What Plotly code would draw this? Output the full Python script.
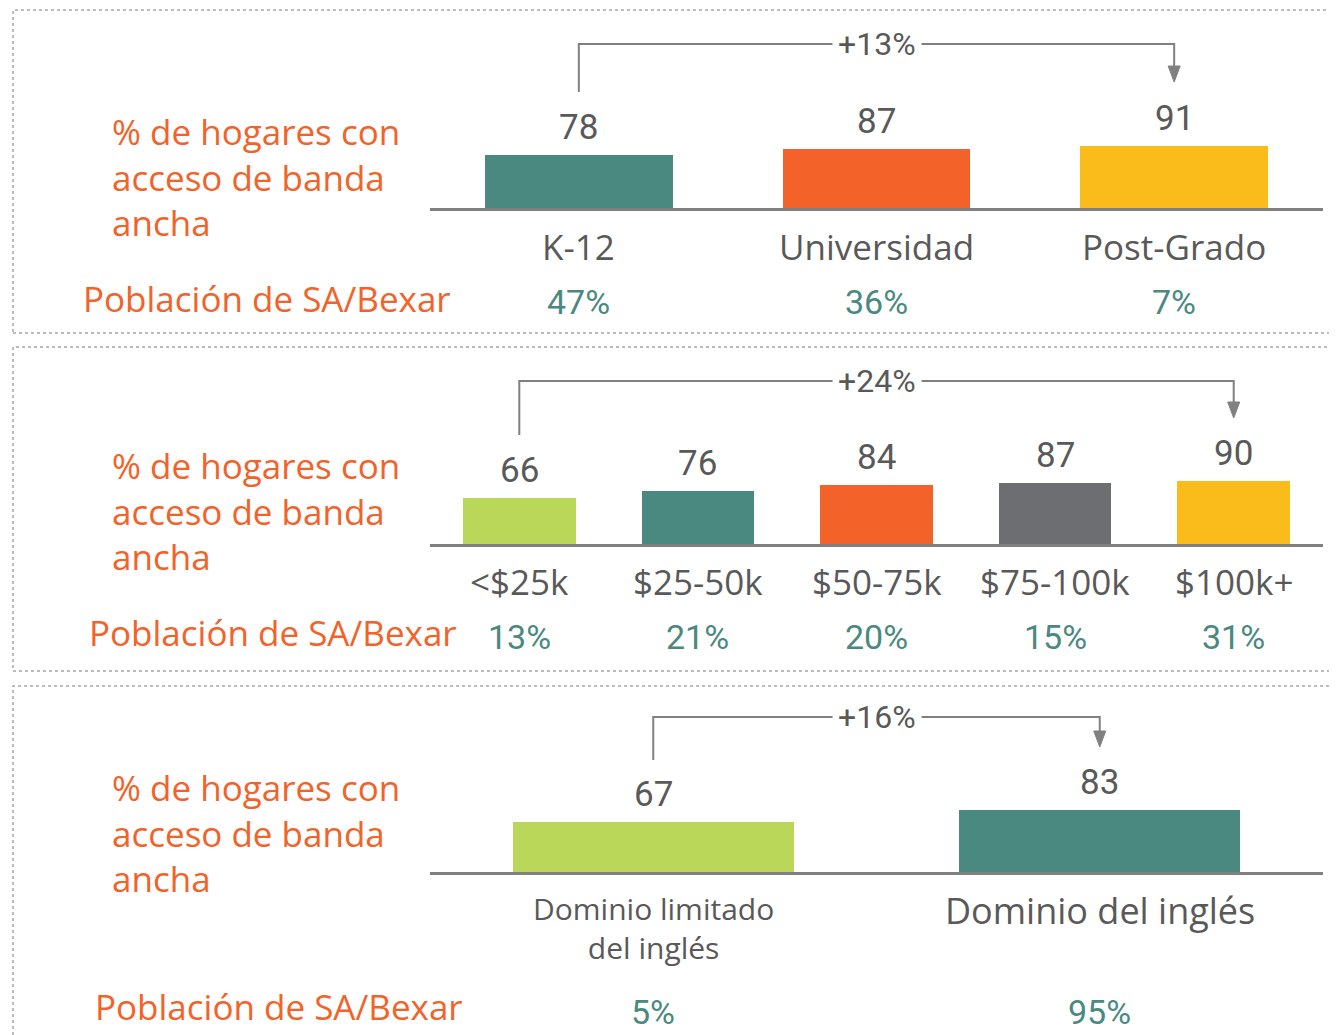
import plotly.graph_objects as go

# ---------------- data ----------------
cats1 = ["K-12", "Universidad", "Post-Grado"]
vals1 = [78, 87, 91]
pct1 = ["47%", "36%", "7%"]
chg1 = "+13%"

cats2 = ["&lt;$25k", "$25-50k", "$50-75k", "$75-100k", "$100k+"]
vals2 = [66, 76, 84, 87, 90]
pct2 = ["13%", "21%", "20%", "15%", "31%"]
chg2 = "+24%"

cats3 = ["Dominio limitado<br>del inglés", "Dominio del inglés"]
vals3 = [67, 83]
pct3 = ["5%", "95%"]
chg3 = "+16%"

ylabel = "% de hogares con<br>acceso de banda<br>ancha"
poplabel = "Población de SA/Bexar"

# ---------------- style ----------------
TEAL = "#4A897F"
ORANGE = "#F26229"
YELLOW = "#F9BC1A"
LIME = "#BAD759"
GRAY = "#6D6E71"
TXT = "#595959"
LINE = "#808080"

colors1 = [TEAL, ORANGE, YELLOW]
colors2 = [LIME, TEAL, ORANGE, GRAY, YELLOW]
colors3 = [LIME, TEAL]

LABEL_FONT = "Open Sans, Noto Sans, sans-serif"
NUM_FONT = "Liberation Sans Narrow, Roboto, sans-serif"

# page body margin offset (px) -> figure sized to fit the window
OFF = 8
W, H = 1337 - OFF, 1035 - OFF


def py(p):
    return 1 - (p - OFF) / H


def px(p):
    return (p - OFF) / W


# panel layout (pixel based, window coordinates)
panels = [
    dict(cats=cats1, vals=vals1, pct=pct1, chg=chg1, colors=colors1,
         base=208, top=20, k=0.68, cat_y=246, cat_size=35, pct_y=302,
         br_low=92, br_top=44, br_tip=82, lab_y=177, pop_x=453, pop_y=298),
    dict(cats=cats2, vals=vals2, pct=pct2, chg=chg2, colors=colors2,
         base=544, top=357, k=0.70, cat_y=581, cat_size=35, pct_y=637,
         br_low=435, br_top=381, br_tip=418, lab_y=511, pop_x=459, pop_y=632),
    dict(cats=cats3, vals=vals3, pct=pct3, chg=chg3, colors=colors3,
         base=872, top=695, k=0.747, cat_y=None, cat_size=30, pct_y=1012,
         br_low=760, br_top=717, br_tip=747, lab_y=833, pop_x=465, pop_y=1006),
]

fig = go.Figure()
annotations = []
shapes = []

x_dom = [px(430), px(1323)]
AX_W = 1323 - 430

for i, p in enumerate(panels, start=1):
    xa = "x" if i == 1 else f"x{i}"
    ya = "y" if i == 1 else f"y{i}"
    n = len(p["cats"])
    idx = list(range(n))
    ymax = (p["base"] - p["top"]) / p["k"]

    fig.add_trace(go.Bar(
        x=idx, y=p["vals"], width=0.63, marker_color=p["colors"],
        marker_line_width=0, xaxis=xa, yaxis=ya, hoverinfo="skip",
        showlegend=False))

    # value labels above bars
    for j, v in enumerate(p["vals"]):
        annotations.append(dict(
            x=j, y=v, xref=xa, yref=ya, text=str(v), showarrow=False,
            yanchor="bottom", yshift=5,
            font=dict(family=NUM_FONT, size=35, color=TXT)))

    # category labels & population shares
    for j, c in enumerate(p["cats"]):
        if p["cat_y"] is not None:
            cy, cs = p["cat_y"], p["cat_size"]
        else:
            cy = 928 if j == 0 else 910
            cs = 30 if j == 0 else 36
        annotations.append(dict(
            x=j, y=py(cy), xref=xa, yref="paper", text=c, showarrow=False,
            yanchor="middle", font=dict(family=LABEL_FONT, size=cs, color=TXT)))
        annotations.append(dict(
            x=j, y=py(p["pct_y"]), xref=xa, yref="paper", text=p["pct"][j],
            showarrow=False, yanchor="middle",
            font=dict(family=NUM_FONT, size=34, color=TEAL)))

    # bracket showing change from first to last
    to_d = lambda pix: (p["base"] - pix) / p["k"]
    first, last = 0, n - 1
    head_h = 16
    y_low, y_top = to_d(p["br_low"]), to_d(p["br_top"])
    y_tip, y_hb = to_d(p["br_tip"]), to_d(p["br_tip"] - head_h)
    shapes.append(dict(
        type="path", xref=xa, yref=ya,
        path=f"M {first},{y_low} L {first},{y_top} L {last},{y_top} L {last},{y_hb}",
        line=dict(color=LINE, width=2)))
    hw = 6 / (AX_W / n)
    shapes.append(dict(
        type="path", xref=xa, yref=ya,
        path=f"M {last-hw},{y_hb} L {last+hw},{y_hb} L {last},{y_tip} Z",
        fillcolor=LINE, line=dict(color=LINE, width=1)))
    annotations.append(dict(
        x=(first + last) / 2, y=y_top, xref=xa, yref=ya, text=p["chg"],
        showarrow=False, bgcolor="white", borderpad=5,
        font=dict(family=NUM_FONT, size=32, color=TXT)))

    # left labels
    annotations.append(dict(
        x=px(110), y=py(p["lab_y"]), xref="paper", yref="paper", text=ylabel,
        showarrow=False, xanchor="left", yanchor="middle", align="left",
        font=dict(family=LABEL_FONT, size=35, color=ORANGE)))
    annotations.append(dict(
        x=px(p["pop_x"]), y=py(p["pop_y"]), xref="paper", yref="paper",
        text=poplabel, showarrow=False, xanchor="right", yanchor="middle",
        font=dict(family=LABEL_FONT, size=35, color=ORANGE)))

    xkey = "xaxis" if i == 1 else f"xaxis{i}"
    ykey = "yaxis" if i == 1 else f"yaxis{i}"
    fig.update_layout(**{
        xkey: dict(domain=x_dom, range=[-0.5, n - 0.5], anchor=ya,
                   showgrid=False, zeroline=False, showticklabels=False,
                   ticks="", showline=True, linecolor=LINE, linewidth=2.5,
                   fixedrange=True),
        ykey: dict(domain=[py(p["base"]), py(p["top"])], range=[0, ymax],
                   anchor=xa, showgrid=False, zeroline=False, visible=False,
                   fixedrange=True),
    })

# dotted panel borders
for (t, b) in [(10, 333), (347, 671), (686, 1060)]:
    shapes.append(dict(type="rect", xref="paper", yref="paper",
                       x0=px(13), x1=px(1360), y0=py(b), y1=py(t),
                       line=dict(color="#A6A6A6", width=1.5, dash="dot"),
                       layer="below"))

fig.update_layout(
    width=W, height=H, margin=dict(l=0, r=0, t=0, b=0),
    paper_bgcolor="white", plot_bgcolor="white",
    annotations=annotations, shapes=shapes, bargap=0,
)

fig.write_html("out.html")
